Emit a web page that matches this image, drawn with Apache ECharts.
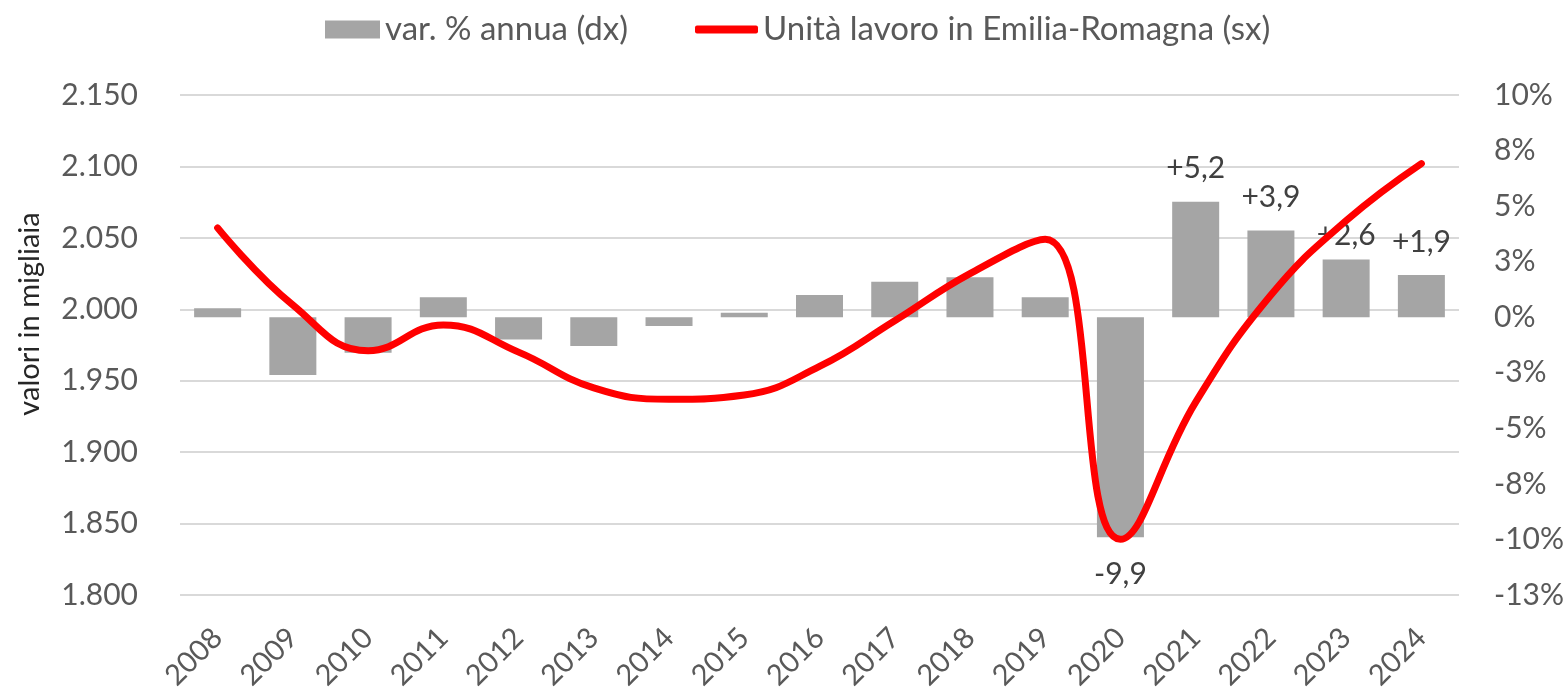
<!DOCTYPE html>
<html>
<head>
<meta charset="utf-8">
<script src="https://cdn.jsdelivr.net/npm/echarts@6/dist/echarts.min.js"></script>
<style>
  html, body { margin: 0; padding: 0; background: #fff; }
  #chart { width: 1568px; height: 694px; }
</style>
</head>
<body>
<div id="chart"></div>
<script>
const years = ['2008', '2009', '2010', '2011', '2012', '2013', '2014', '2015', '2016',
  '2017', '2018', '2019', '2020', '2021', '2022', '2023', '2024'];
// var. % annua (asse destro)
const varAnnua = [0.4, -2.6, -1.6, 0.9, -1.0, -1.3, -0.4, 0.2, 1.0,
  1.6, 1.8, 0.9, -9.9, 5.2, 3.9, 2.6, 1.9];
// unità di lavoro, migliaia (asse sinistro)
const unitaLavoro = [2057, 2003, 1971, 1989, 1970, 1945, 1937, 1940, 1960,
  1992, 2025, 2049, 1839, 1935, 2010, 2062, 2102];
// anni con etichetta sulla barra
const labelledYears = ['2020', '2021', '2022', '2023', '2024'];

const FONT = 'Lato';
const GREY_TXT = '#595959';

function fmtThousands(v) {
  const s = String(Math.round(v));
  return s.length > 3 ? s.slice(0, s.length - 3) + '.' + s.slice(-3) : s;
}
function fmtPct(v) {
  const r = Math.round(Math.abs(v));
  return (v < 0 && r !== 0 ? '-' : '') + r + '%';
}
function fmtLabel(v) {
  return (v > 0 ? '+' : '') + v.toFixed(1).replace('.', ',');
}

const barData = varAnnua.map((v, i) => {
  const y = years[i];
  if (labelledYears.indexOf(y) < 0) return v;
  return {
    value: v,
    label: {
      show: true,
      position: v < 0 ? 'bottom' : 'top',
      distance: v < 0 ? 22 : (y === '2023' ? 9 : 18)
    }
  };
});

const chart = echarts.init(document.getElementById('chart'));
chart.setOption({
  animation: false,
  textStyle: { fontFamily: FONT },
  legend: [
    {
      left: 320, top: 8,
      data: ['var. % annua (dx)'],
      itemWidth: 55, itemHeight: 18,
      icon: 'rect',
      textStyle: { fontSize: 33, color: GREY_TXT, fontFamily: FONT }
    },
    {
      left: 690, top: 8,
      data: ['Unità lavoro in Emilia-Romagna (sx)'],
      itemWidth: 63, itemHeight: 8,
      icon: 'roundRect',
      textStyle: { fontSize: 33, color: GREY_TXT, fontFamily: FONT }
    }
  ],
  grid: { left: 180, right: 109, top: 95, bottom: 99 },
  graphic: [{
    type: 'text',
    x: 30, y: 314,
    rotation: Math.PI / 2,
    style: {
      text: 'valori in migliaia',
      font: '29px Lato',
      fill: '#262626',
      textAlign: 'center',
      textVerticalAlign: 'middle'
    }
  }],
  xAxis: {
    type: 'category',
    data: years,
    axisLine: { show: false },
    axisTick: { show: false },
    axisLabel: { rotate: 45, margin: 38, fontSize: 29, color: GREY_TXT, fontFamily: FONT, interval: 0 }
  },
  yAxis: [
    {
      type: 'value',
      min: 1800, max: 2150, interval: 50,
      axisLine: { show: false },
      axisTick: { show: false },
      splitLine: { lineStyle: { color: '#d9d9d9', width: 2 } },
      axisLabel: { margin: 42, fontSize: 30, color: GREY_TXT, fontFamily: FONT, formatter: fmtThousands }
    },
    {
      type: 'value',
      position: 'right',
      min: -12.5, max: 10, interval: 2.5,
      axisLine: { show: false },
      axisTick: { show: false },
      splitLine: { show: false },
      axisLabel: { margin: 35, fontSize: 30, color: GREY_TXT, fontFamily: FONT, formatter: fmtPct }
    }
  ],
  series: [
    {
      name: 'var. % annua (dx)',
      type: 'bar',
      yAxisIndex: 1,
      data: barData,
      barWidth: 47,
      itemStyle: { color: '#a5a5a5' },
      label: {
        show: false,
        fontSize: 30,
        color: '#404040',
        fontFamily: FONT,
        formatter: p => fmtLabel(p.value)
      }
    },
    {
      name: 'Unità lavoro in Emilia-Romagna (sx)',
      type: 'line',
      yAxisIndex: 0,
      data: unitaLavoro,
      smooth: 0.45,
      showSymbol: false,
      symbol: 'none',
      lineStyle: { color: '#ff0000', width: 7, cap: 'round' },
      itemStyle: { color: '#ff0000' }
    }
  ]
});
</script>
</body>
</html>
